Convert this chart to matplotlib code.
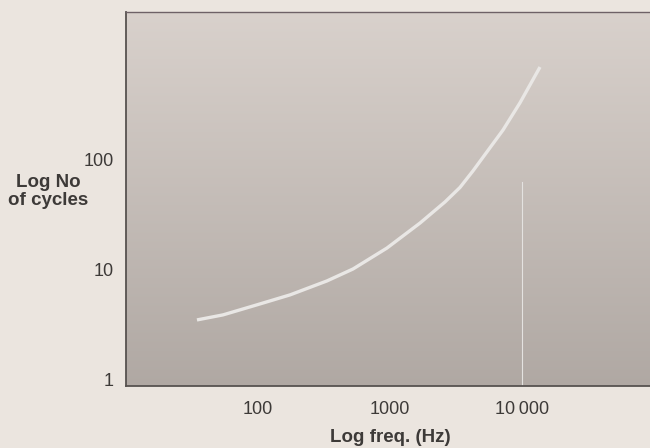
import numpy as np
import matplotlib.pyplot as plt

# values (log-log)
freq_hz = [34.5, 54.3, 98, 175, 333, 525, 948, 1690, 2610, 3390, 4250, 7180, 9660, 13700]
n_cycles = [3.51, 3.90, 4.81, 5.93, 7.94, 10.2, 15.8, 26.7, 41.5, 56.2, 79.4, 187, 331, 700]
x_ticks = [100, 1000, 10000]
x_tick_labels = ["100", "1000", "10\u2009000"]
y_ticks = [1, 10, 100]
y_tick_labels = ["1", "10", "100"]
marker_freq = 10000
marker_top = 63

plt.rcParams["font.family"] = ["Liberation Sans", "DejaVu Sans"]

fig = plt.figure(figsize=(6.5, 4.48), dpi=100)
fig.patch.set_facecolor("#ebe5df")
ax = fig.add_axes([0.1938, 0.1384, 0.8123, 0.8348])

# shaded panel (vertical gradient, lighter at top)
top_col = np.array([0.85, 0.82, 0.80])
bot_col = np.array([0.69, 0.66, 0.64])
t = np.linspace(0, 1, 256)[:, None]
grad = top_col * (1 - t) + bot_col * t
ax.imshow(grad[:, None, :].repeat(2, axis=1), extent=[0, 1, 0, 1],
          transform=ax.transAxes, aspect="auto", zorder=0)

ax.set_xscale("log")
ax.set_yscale("log")
ax.set_xlim(10, 1e5)
ax.set_ylim(0.88, 2215)

ax.plot(freq_hz, n_cycles, color="#e9e7e5", lw=2.4, solid_joinstyle="round",
        solid_capstyle="butt", zorder=3)
ax.plot([marker_freq, marker_freq], [0.88, marker_top], color="#e4e2e0", lw=0.8, zorder=2)

ax.set_xticks(x_ticks)
ax.set_xticklabels(x_tick_labels)
ax.set_yticks(y_ticks)
ax.set_yticklabels(y_tick_labels)
ax.minorticks_off()
ax.tick_params(axis="x", length=0, pad=11, labelsize=13, labelcolor="#3d3a38")
ax.tick_params(axis="y", length=0, pad=9, labelsize=13, labelcolor="#3d3a38")

for side in ["left", "bottom"]:
    ax.spines[side].set_color("#575250")
    ax.spines[side].set_linewidth(1.3)
ax.spines["top"].set_color("#6e6166")
ax.spines["top"].set_linewidth(1.0)
ax.spines["right"].set_visible(False)

fig.text(0.074, 0.572, "Log No\nof cycles", ha="center", va="center",
         fontsize=13.5, fontweight="bold", color="#3d3a38", linespacing=1.1)
fig.text(0.6, 0.024, "Log freq. (Hz)", ha="center", va="center",
         fontsize=13.5, fontweight="bold", color="#3d3a38")

fig.savefig("out.png", dpi=100, facecolor=fig.get_facecolor())
